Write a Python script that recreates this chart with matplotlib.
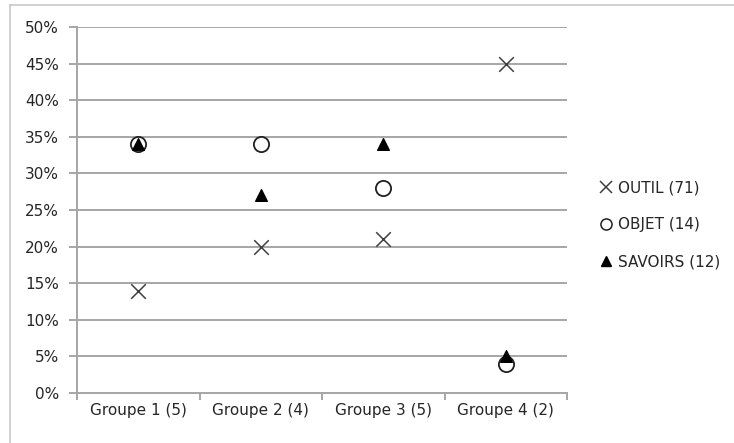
import matplotlib
matplotlib.use("Agg")
import matplotlib.pyplot as plt
from matplotlib.lines import Line2D
import numpy as np

categories = ["Groupe 1 (5)", "Groupe 2 (4)", "Groupe 3 (5)", "Groupe 4 (2)"]
outil = [14, 20, 21, 45]
objet = [34, 34, 28, 4]
savoirs = [34, 27, 34, 5]
series_labels = ["OUTIL (71)", "OBJET (14)", "SAVOIRS (12)"]
y_ticks = [0, 5, 10, 15, 20, 25, 30, 35, 40, 45, 50]

plt.rcParams["font.family"] = ["DejaVu Sans"]

fig = plt.figure(figsize=(7.34, 4.43), dpi=100)
ax = fig.add_axes([77 / 734, 1 - 393 / 443, (567 - 77) / 734, (393 - 27) / 443])

grid_col = "#a6a6a6"
txt_col = "#262626"
fs = 11
x = np.arange(len(categories))

for yv in y_ticks[1:]:
    ax.axhline(yv, color=grid_col, lw=1.4, zorder=1)

ax.scatter(x, outil, marker="x", s=110, color="#404040", linewidths=1.1, zorder=3)
ax.scatter(x, objet, marker="o", s=120, facecolors="white", edgecolors="#202020",
           linewidths=1.3, zorder=3)
ax.scatter(x, savoirs, marker="^", s=70, color="black", zorder=4)

ax.set_xlim(-0.5, len(categories) - 0.5)
ax.set_ylim(0, 50)
ax.set_yticks(y_ticks)
ax.set_yticklabels([f"{v}%" for v in y_ticks], fontsize=fs, color=txt_col)
ax.set_xticks(np.arange(len(categories) + 1) - 0.5, minor=False)
ax.set_xticklabels([])
ax.set_xticks(x, minor=True)
ax.set_xticklabels(categories, minor=True, fontsize=fs, color=txt_col)
ax.tick_params(axis="x", which="minor", length=0, pad=7)
ax.tick_params(axis="x", which="major", length=5, width=1.4, color=grid_col, direction="out")
ax.tick_params(axis="y", length=6, width=1.4, color=grid_col, direction="out", pad=7)

for s in ["top", "right"]:
    ax.spines[s].set_visible(False)
for s in ["left", "bottom"]:
    ax.spines[s].set_color(grid_col)
    ax.spines[s].set_linewidth(1.4)

handles = [
    Line2D([], [], marker="x", ls="none", color="#404040", markersize=9, markeredgewidth=1.1),
    Line2D([], [], marker="o", ls="none", markerfacecolor="white", markeredgecolor="#202020",
           markersize=8, markeredgewidth=1.1),
    Line2D([], [], marker="^", ls="none", color="black", markersize=7),
]
fig.legend(handles, series_labels, loc="center left", bbox_to_anchor=(584 / 734, 1 - 225 / 443),
           frameon=False, fontsize=fs, handletextpad=0.25, handlelength=1.1,
           labelspacing=1.45, labelcolor=txt_col)

# outer frame (top and left edges)
fig.add_artist(Line2D([10 / 734, 1], [1 - 5 / 443, 1 - 5 / 443], transform=fig.transFigure,
                      color="#c8c8c8", lw=1.2))
fig.add_artist(Line2D([10 / 734, 10 / 734], [0, 1 - 5 / 443], transform=fig.transFigure,
                      color="#c8c8c8", lw=1.2))

fig.savefig("out.png", dpi=100)
